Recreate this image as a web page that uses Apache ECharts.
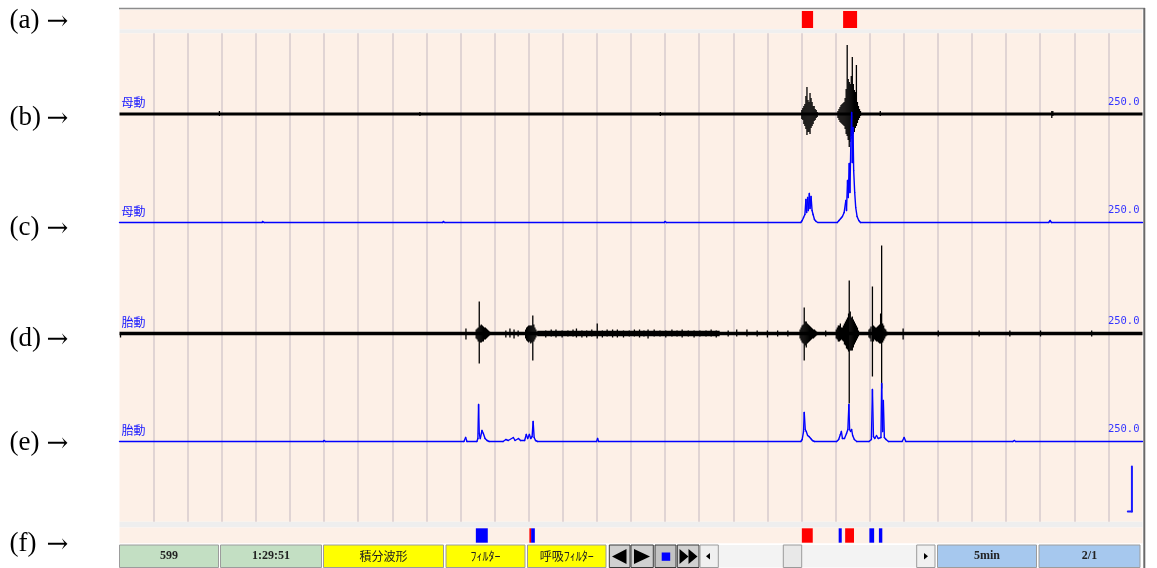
<!DOCTYPE html>
<html>
<head>
<meta charset="utf-8">
<title>母動・胎動</title>
<script src="https://cdn.jsdelivr.net/npm/echarts@6/dist/echarts.min.js"></script>
<style>
html,body{margin:0;padding:0;background:#fff;}
#chart{width:1157px;height:568px;}
</style>
</head>
<body>
<div id="chart"></div>
<script>
// 時間軸(秒) 5min表示, 10秒ごとの縦線
var xMin = 0, xMax = 300, gridStep = 10;

// (a) マーカー
var markARed = [[200.1,203.4],[212.2,216.3]];
// (f) マーカー
var markFBlue = [[104.5,108.0],[120.7,121.8],[210.9,211.8],[219.9,221.3],[222.7,223.7]];
var markFRed = [[120.2,120.7],[200.1,203.3],[212.8,215.4]];

// (b) 母動 原波形  [時刻, 上振れ, 下振れ]
var waveB = [
  [29.3,3,-2],[88.1,2,-2],[158.6,2,-2],
  [200.1,4,-5],[200.4,6,-6],[200.7,8,-10],[201.0,10,-12],[201.3,18,-15],[201.6,27,-21],[201.9,14,-18],
  [202.2,12,-18],[202.5,21,-20],[202.8,16,-14],[203.1,12,-12],[203.4,8,-10],[203.7,8,-7],[204.0,5,-6],
  [204.3,4,-4],[204.6,2,-3],
  [210.7,3,-4],[211.0,5,-6],[211.3,7,-8],[211.6,9,-9],[211.9,10,-10],[212.2,11,-11],[212.5,12,-12],
  [212.8,16,-15],[213.1,25,-20],[213.4,69,-22],[213.7,35,-26],[214.0,32,-33],[214.3,30,-28],[214.6,38,-22],
  [214.9,57,-25],[215.2,30,-20],[215.5,24,-18],[215.8,22,-14],[216.1,49,-12],[216.4,12,-9],[216.7,8,-6],
  [217.0,5,-4],[217.3,3,-2],
  [223.1,3,-2],[273.4,3,-4],[273.7,3,-2]
];
// (c) 母動 積分波形
var waveC = [
  [0,0],[41.8,0],[42.0,1],[42.4,0],[94.8,0],[95.0,1],[95.4,0],[159.8,0],[160.0,1],[160.4,0],
  [199.8,0],[200.2,2],[200.6,5],[201.0,8],[201.3,23],[201.5,10],[201.8,25],[202.0,12],[202.3,29],
  [202.5,14],[202.8,26],[203.1,12],[203.4,8],[203.8,3],[204.3,1],[204.8,0],
  [210.5,0],[211.0,2],[211.5,4],[212.0,6],[212.5,10],[213.0,22],[213.2,12],[213.5,42],[213.7,25],
  [214.0,59],[214.2,30],[214.5,85],[214.7,110],[214.9,60],[215.1,95],[215.3,52],[215.6,30],
  [215.9,15],[216.3,6],[216.8,2],[217.3,0],
  [272.5,0],[272.9,2],[273.3,0],[300,0]
];
// (d) 胎動 原波形  [時刻, 上振れ, 下振れ]
var waveD = [
  [0.3,0,-4],[101.6,5,-6],
  [104.6,4,-5],[104.9,5,-6],[105.2,6,-8],[105.5,32,-30],[105.8,8,-9],[106.1,9,-9],[106.4,8,-8],
  [106.7,7,-8],[107.0,6,-6],[107.3,6,-6],[107.6,5,-5],[107.9,4,-4],[108.2,3,-3],[108.5,2,-2],
  [113.3,3,-4],[114.5,5,-4],[115.7,4,-5],[116.9,3,-3],
  [119.1,4,-5],[119.4,6,-7],[119.7,7,-8],[120.0,8,-9],[120.3,8,-8],[120.6,8,-10],[120.9,8,-9],
  [121.2,18,-27],[121.5,9,-8],[121.8,6,-6],[122.1,4,-4],[122.4,2,-2],
  [125.0,3,-4],[126.6,4,-3],[128.0,4,-4],[129.8,3,-4],[131.5,3,-3],[133.0,4,-3],[134.0,5,-4],
  [135.6,3,-4],[137.0,3,-4],[138.5,4,-3],[140.1,10,-5],[141.6,3,-4],[143.0,4,-3],[144.6,4,-4],
  [146.0,4,-4],[147.8,3,-4],[149.5,3,-3],[151.0,4,-3],[152.5,4,-4],[153.8,3,-3],[155.0,4,-5],
  [156.8,4,-3],[158.5,3,-3],[160.2,3,-4],[162.0,4,-3],[163.5,3,-3],[165.0,4,-4],[166.8,3,-3],
  [168.5,3,-4],[170.2,3,-3],[172.0,3,-3],[173.5,4,-3],[175.0,3,-4],[178.5,3,-3],[181.0,4,-3],
  [184.0,4,-3],[187.0,3,-3],[190.0,3,-4],[193.0,3,-3],[196.0,3,-3],
  [199.6,4,-5],[199.9,6,-7],[200.2,8,-9],[200.5,9,-10],[200.8,26,-27],[201.1,12,-12],[201.4,12,-14],
  [201.7,10,-10],[202.0,9,-9],[202.3,8,-8],[202.6,7,-7],[202.9,6,-6],[203.2,5,-5],[203.5,4,-5],
  [203.8,4,-4],[204.1,3,-3],[204.4,2,-2],
  [207.1,3,-3],
  [210.2,4,-5],[210.5,6,-6],[210.8,8,-8],[211.1,8,-8],[211.4,10,-7],[211.7,6,-6],[212.0,6,-7],
  [212.3,8,-8],[212.6,10,-11],[212.9,12,-12],[213.2,14,-15],[213.5,16,-16],[213.8,20,-18],[214.0,53,-70],
  [214.3,22,-17],[214.6,16,-17],[214.9,17,-17],[215.2,14,-14],[215.5,12,-11],[215.8,10,-9],[216.1,8,-7],
  [216.4,6,-5],[216.7,3,-3],
  [219.8,4,-4],[220.1,5,-5],[220.4,7,-8],[220.8,47,-43],[221.1,8,-8],[221.4,7,-6],[221.7,6,-7],
  [222.0,6,-8],[222.3,7,-8],[222.6,8,-9],[222.9,9,-10],[223.2,20,-10],[223.5,88,-55],[223.8,10,-9],
  [224.1,8,-7],[224.4,5,-5],[224.7,4,-3],[225.0,2,-2],
  [229.8,5,-6],[240.1,3,-3],[252.1,3,-3],[261.1,3,-3],[270.1,3,-3],[285.1,3,-3]
];
// (d) ノイズが大きい区間
var dNoisy = [[122.5,0],[176.0,0]];
// (e) 胎動 積分波形
var waveE = [
  [0,0],[59.8,0],[60.0,1],[60.4,0],
  [101.0,0],[101.5,4],[101.9,0],
  [104.8,0],[105.1,3],[105.3,37],[105.5,8],[105.8,3],[106.3,11],[106.7,8],[107.2,3],[107.8,1],[108.4,0],
  [112.5,0],[113.3,2],[114.0,1],[115.5,4],[116.0,1],[117.0,3],[117.6,1],
  [118.8,1],[119.3,7],[119.7,3],[120.2,7],[120.6,3],[121.0,5],[121.3,20],[121.6,4],[122.0,1],[122.6,0],
  [139.9,0],[140.2,3],[140.5,0],
  [199.8,0],[200.2,2],[200.6,10],[200.8,29],[201.1,12],[201.4,10],[201.8,6],[202.2,5],[202.7,3],
  [203.2,1],[203.8,0],
  [210.3,0],[210.9,2],[211.4,7],[211.7,10],[212.0,3],[212.6,3],[213.2,8],[213.6,12],[213.9,37],
  [214.1,12],[214.4,10],[214.7,12],[215.0,6],[215.5,2],[216.2,0],
  [219.8,0],[220.5,2],[220.8,52],[221.1,5],[221.5,3],[222.0,6],[222.5,3],[223.3,4],[223.5,58],
  [223.8,10],[224.0,41],[224.3,4],[224.8,2],[225.5,0],
  [229.5,0],[230.1,4],[230.6,0],
  [262.0,0],[262.4,1],[262.8,0],[300,0]
];
// 較正バー (e)の右下
var scaleBar = [[295.7,-70],[296.9,-70],[296.9,-25]];

var chanNames = ['母動','母動','胎動','胎動'];
var rangeText = '250.0';
var rowLabels = ['(a)','(b)','(c)','(d)','(e)','(f)'];
var footCells = [
  {text:'599', x0:119.5, x1:218.5, color:'#c3dfc3', serif:true},
  {text:'1:29:51', x0:220.5, x1:321.5, color:'#c3dfc3', serif:true},
  {text:'積分波形', x0:323.5, x1:443.5, color:'#ffff00'},
  {text:'ﾌｨﾙﾀｰ', x0:446, x1:525, color:'#ffff00'},
  {text:'呼吸ﾌｨﾙﾀｰ', x0:527.5, x1:606, color:'#ffff00'},
  {text:'5min', x0:937.5, x1:1036.5, color:'#a6c8ee', serif:true},
  {text:'2/1', x0:1039, x1:1140, color:'#a6c8ee', serif:true}
];

var peach = '#fdf0e7';
var plotLeft = 119.5, plotWidth = 1023;
// 各波形の基線 (px)
var baseY = [114, 222.5, 333.5, 441.5];
var halfH = 100;

var myChart = echarts.init(document.getElementById('chart'));

function rectItem(color){
  return function(params, api){
    var p0 = api.coord([api.value(0), 1]);
    var p1 = api.coord([api.value(1), 0]);
    return {type:'rect', shape:{x:p0[0], y:p0[1], width:Math.max(p1[0]-p0[0],1), height:p1[1]-p0[1]}, style:{fill:color}};
  };
}
// 原波形: 各時刻の振れ幅を縦線で描く
function spikeItem(params, api){
  var t = api.coord([api.value(0), api.value(1)]);
  var b = api.coord([api.value(0), api.value(2)]);
  return {type:'line', shape:{x1:t[0], y1:t[1], x2:b[0], y2:b[1]}, style:{stroke:'#000', lineWidth:1.3}};
}
// 積分波形: 前の点から線分でつなぐ
function traceItem(arr, color, width){
  return function(params, api){
    var i = params.dataIndex;
    if(i === 0) return null;
    var p0 = api.coord(arr[i-1]);
    var p1 = api.coord([api.value(0), api.value(1)]);
    return {type:'line', shape:{x1:p0[0], y1:p0[1], x2:p1[0], y2:p1[1]},
      style:{stroke:color, lineWidth:width, lineCap:'round'}};
  };
}

var grids = [
  {left:plotLeft, top:33.3, width:plotWidth, height:488.4},
  {left:plotLeft, top:11, width:plotWidth, height:17},
  {left:plotLeft, top:528.3, width:plotWidth, height:14.4}
];
var xAxes = [
  {type:'value', gridIndex:0, min:xMin, max:xMax, interval:gridStep,
   axisLine:{show:false}, axisTick:{show:false}, axisLabel:{show:false},
   splitLine:{show:true, showMinLine:false, showMaxLine:false, lineStyle:{color:'#e0d4d4', width:2}}},
  {type:'value', gridIndex:1, min:xMin, max:xMax, show:false},
  {type:'value', gridIndex:2, min:xMin, max:xMax, show:false}
];
var yAxes = [
  {type:'value', gridIndex:0, min:0, max:1, show:false},
  {type:'value', gridIndex:1, min:0, max:1, show:false},
  {type:'value', gridIndex:2, min:0, max:1, show:false}
];
for(var i=0;i<baseY.length;i++){
  grids.push({left:plotLeft, top:baseY[i]-halfH, width:plotWidth, height:halfH*2});
  xAxes.push({type:'value', gridIndex:3+i, min:xMin, max:xMax, show:false});
  yAxes.push({type:'value', gridIndex:3+i, min:-halfH, max:halfH, show:false});
}

function lineSeries(idx, data, color, width, z){
  return {type:'line', xAxisIndex:idx, yAxisIndex:idx, data:data, showSymbol:false, symbol:'none',
    animation:false, silent:true, z:z, clip:false,
    lineStyle:{color:color, width:width}};
}
function spikeSeries(idx, data){
  return {type:'custom', xAxisIndex:idx, yAxisIndex:idx, data:data, renderItem:spikeItem,
    encode:{x:0, y:[1,2]}, animation:false, silent:true, z:2};
}
function traceSeries(idx, data, color, width){
  return {type:'custom', xAxisIndex:idx, yAxisIndex:idx, data:data, renderItem:traceItem(data, color, width),
    encode:{x:0, y:1}, animation:false, silent:true, z:3};
}

var series = [
  {type:'custom', xAxisIndex:1, yAxisIndex:1, data:markARed, renderItem:rectItem('#ff0000'), encode:{x:[0,1]}, animation:false},
  {type:'custom', xAxisIndex:2, yAxisIndex:2, data:markFBlue, renderItem:rectItem('#0000ff'), encode:{x:[0,1]}, animation:false},
  {type:'custom', xAxisIndex:2, yAxisIndex:2, data:markFRed, renderItem:rectItem('#ff0000'), encode:{x:[0,1]}, animation:false},
  lineSeries(3, [[xMin,0],[xMax,0]], '#000', 3, 2),
  spikeSeries(3, waveB),
  lineSeries(5, [[xMin,0],[xMax,0]], '#000', 3.5, 2),
  lineSeries(5, dNoisy, '#000', 5.5, 2),
  spikeSeries(5, waveD),
  traceSeries(4, waveC, '#0000ff', 1.4),
  traceSeries(6, waveE, '#0000ff', 1.4),
  traceSeries(6, scaleBar, '#1a1aff', 2)
];

// 背景・ラベル・下部ツールバー
var g = [];
function rect(x, y, w, h, fill, stroke, z){
  g.push({type:'rect', z:z||-100, silent:true, shape:{x:x, y:y, width:w, height:h},
    style:{fill:fill, stroke:stroke||null, lineWidth:stroke?1:0}});
}
function txt(s, x, y, font, color, align){
  g.push({type:'text', z:100, silent:true,
    style:{text:s, x:x, y:y, font:font, fill:color, textAlign:align||'left', align:align||'left',
      textVerticalAlign:'middle', verticalAlign:'middle'}});
}
function tri(pts, color){
  g.push({type:'polygon', z:100, silent:true, shape:{points:pts}, style:{fill:color}});
}

rect(plotLeft, 9.7, plotWidth, 19.6, peach);
rect(plotLeft, 29.3, plotWidth, 4, '#efefef');
rect(plotLeft, 33.3, plotWidth, 488.4, peach);
rect(plotLeft, 521.7, plotWidth, 5.8, '#eeeeee');
rect(plotLeft, 527.5, plotWidth, 15.8, peach);
g.push({type:'line', z:50, silent:true, shape:{x1:119, y1:8.5, x2:1145, y2:8.5}, style:{stroke:'#8c8c8c', lineWidth:1.5}});
g.push({type:'line', z:50, silent:true, shape:{x1:1144.3, y1:8, x2:1144.3, y2:568}, style:{stroke:'#6a6a6a', lineWidth:2}});

var labelFont = '12px "Noto Sans CJK JP", sans-serif';
var monoFont = '10.5px "DejaVu Sans Mono", monospace';
for(var k=0;k<baseY.length;k++){
  txt(chanNames[k], 121.5, baseY[k]-11.5, labelFont, '#1515ff');
  txt(rangeText, 1139.5, baseY[k]-12, monoFont, '#3535ff', 'right');
}
var rowY = [21, 118, 228, 339, 443, 544];
for(var r=0;r<rowLabels.length;r++){
  txt(rowLabels[r], 9.5, rowY[r], '27px "Liberation Serif", serif', '#000');
  txt('→', 46.5, rowY[r] + 1, '26px "DejaVu Serif", serif', '#000');
}

var barTop = 545, barH = 22.5, barMid = barTop + barH/2;
for(var c=0;c<footCells.length;c++){
  var fc = footCells[c];
  rect(fc.x0, barTop, fc.x1-fc.x0, barH, fc.color, '#9c9c9c', 10);
  txt(fc.text, (fc.x0+fc.x1)/2, barMid, fc.serif ? 'bold 12px "Liberation Serif", serif' : '12px "Noto Sans CJK JP", sans-serif', '#222', 'center');
}
// 再生ボタン
var btns = [[609.3,630],[631,653.3],[655,676],[677.3,699]];
for(var b=0;b<btns.length;b++){
  rect(btns[b][0], barTop, btns[b][1]-btns[b][0], barH, b==2 ? '#c4c4c4' : '#d0d0d0', '#3a3a3a', 10);
}
tri([[612,556.5],[626.5,549],[626.5,564]], '#000');
tri([[634,549],[634,564],[650,556.5]], '#000');
rect(661.7, 552.5, 8.5, 8.3, '#0000ff', null, 100);
tri([[679.5,549],[679.5,564],[688.5,556.5]], '#000');
tri([[688.5,549],[688.5,564],[697.5,556.5]], '#000');
// スクロールバー
rect(700, barTop, 18.3, barH, '#f0f0f0', '#9a9a9a', 10);
tri([[706,556.3],[710,553],[710,559.6]], '#000');
rect(718.3, barTop, 198.4, barH, '#f3f3f3', null, 9);
rect(783.3, barTop, 18.4, barH, '#e8e8e8', '#9a9a9a', 10);
rect(916.7, barTop, 18.3, barH, '#f0f0f0', '#9a9a9a', 10);
tri([[924,553],[924,559.6],[928,556.3]], '#000');

var option = {
  backgroundColor:'#fff',
  animation:false,
  grid:grids,
  xAxis:xAxes,
  yAxis:yAxes,
  series:series,
  graphic:{elements:g}
};
myChart.setOption(option);
</script>
</body>
</html>
